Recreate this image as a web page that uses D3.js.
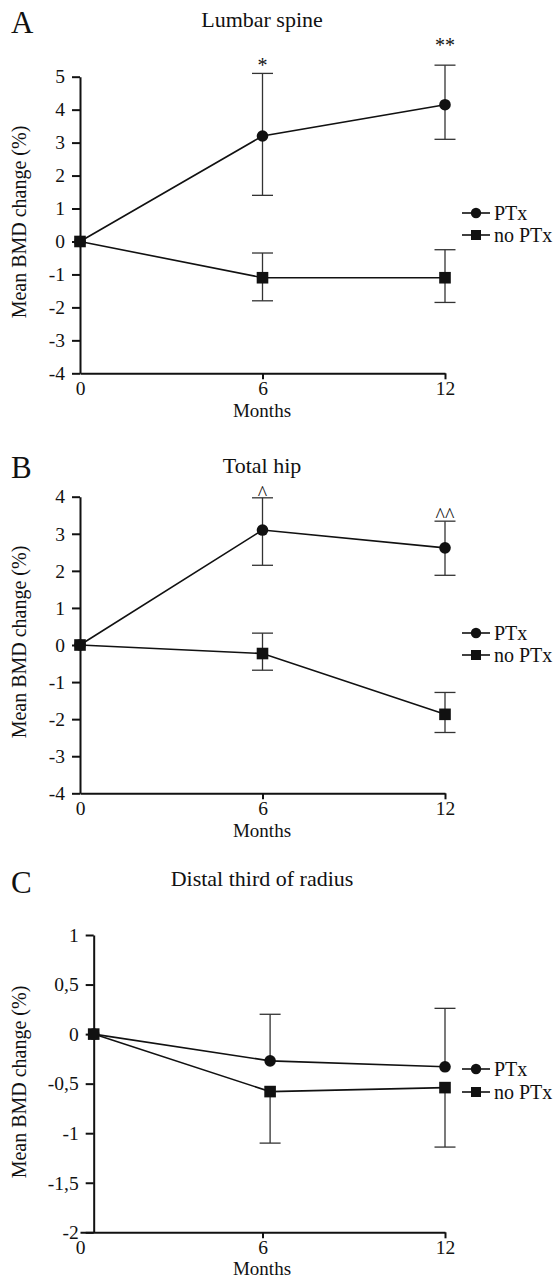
<!DOCTYPE html>
<html>
<head>
<meta charset="utf-8">
<script src="https://cdn.jsdelivr.net/npm/d3@7"></script>
<style>
  body { margin: 0; background: #fff; }
  svg text { font-family: "Liberation Serif", "Times New Roman", serif; fill: #111; }
  .tick text { font-size: 19.5px; }
</style>
</head>
<body>
<svg id="chart" width="555" height="1279"></svg>
<script>
// months on the x axis
var xTicks = [0, 6, 12];
var months = [0, 6, 12];
var monthsC = [0.45, 6.25, 12]; // panel C points sit a bit to the right

// A - lumbar spine
var lumbarPTx   = [0, 3.2, 4.15];
var lumbarPTxHi = [null, 5.1, 5.35];
var lumbarPTxLo = [null, 1.4, 3.1];
var lumbarNo    = [0, -1.1, -1.1];
var lumbarNoHi  = [null, -0.35, -0.25];
var lumbarNoLo  = [null, -1.8, -1.85];
var lumbarSig   = ["", "*", "**"];
var lumbarSigY  = [null, 5.44, 6.05];
var ticksA = [-4, -3, -2, -1, 0, 1, 2, 3, 4, 5];

// B - total hip
var hipPTx   = [0, 3.1, 2.62];
var hipPTxHi = [null, 3.97, 3.34];
var hipPTxLo = [null, 2.15, 1.88];
var hipNo    = [0, -0.23, -1.87];
var hipNoHi  = [null, 0.32, -1.28];
var hipNoLo  = [null, -0.68, -2.36];
var hipSig   = ["", "^", "^^"];
var hipSigY  = [null, 4.17, 3.58];
var ticksB = [-4, -3, -2, -1, 0, 1, 2, 3, 4];

// C - distal third of radius (one sided error bars)
var radiusPTx   = [0, -0.27, -0.33];
var radiusPTxHi = [null, 0.20, 0.26];
var radiusPTxLo = [null, null, null];
var radiusNo    = [0, -0.58, -0.54];
var radiusNoHi  = [null, null, null];
var radiusNoLo  = [null, -1.10, -1.14];
var ticksC = [-2, -1.5, -1, -0.5, 0, 0.5, 1];

var legendNames = ["PTx", "no PTx"];

var plain = function(d) { return String(d); };
var comma = function(d) { return String(d).replace(".", ","); };

var panels = [
  { letter: "A", letterY: 33, title: "Lumbar spine", titleY: 27, top: 76.7, bottom: 373.3,
    yDomain: [-4, 5], ticks: ticksA, fmt: plain, xs: months, labelY: 222, monthsY: 417,
    ptx: lumbarPTx, ptxHi: lumbarPTxHi, ptxLo: lumbarPTxLo,
    no: lumbarNo, noHi: lumbarNoHi, noLo: lumbarNoLo,
    sig: lumbarSig, sigY: lumbarSigY, legendY: [213, 235] },
  { letter: "B", letterY: 478, title: "Total hip", titleY: 473, top: 496.7, bottom: 793.3,
    yDomain: [-4, 4], ticks: ticksB, fmt: plain, xs: months, labelY: 642, monthsY: 837,
    ptx: hipPTx, ptxHi: hipPTxHi, ptxLo: hipPTxLo,
    no: hipNo, noHi: hipNoHi, noLo: hipNoLo,
    sig: hipSig, sigY: hipSigY, legendY: [633, 655] },
  { letter: "C", letterY: 893, title: "Distal third of radius", titleY: 886, top: 935, bottom: 1232.3,
    yDomain: [-2, 1], ticks: ticksC, fmt: comma, xs: monthsC, labelY: 1082, monthsY: 1275,
    ptx: radiusPTx, ptxHi: radiusPTxHi, ptxLo: radiusPTxLo,
    no: radiusNo, noHi: radiusNoHi, noLo: radiusNoLo,
    sig: null, sigY: null, legendY: [1069, 1092] }
];

var svg = d3.select("#chart");
var x = d3.scaleLinear().domain([0, 12]).range([80, 445]);

panels.forEach(function(p) {
  var g = svg.append("g");
  var y = d3.scaleLinear().domain(p.yDomain).range([p.bottom, p.top]);
  var axisX = x(p.xs[0]);

  // letter + title
  g.append("text").attr("x", 11).attr("y", p.letterY).style("font-size", "31px").text(p.letter);
  g.append("text").attr("x", 262).attr("y", p.titleY).attr("text-anchor", "middle")
    .style("font-size", "22px").text(p.title);

  // x axis
  var gx = g.append("g").attr("transform", "translate(0," + p.bottom + ")")
    .call(d3.axisBottom(x).tickValues(xTicks).tickFormat(plain).tickSize(6).tickPadding(2).tickSizeOuter(0));
  gx.selectAll(".tick").filter(function(d) { return d === 0; }).select("line").remove();

  // y axis
  var gy = g.append("g").attr("transform", "translate(" + axisX + ",0)")
    .call(d3.axisLeft(y).tickValues(p.ticks).tickFormat(p.fmt).tickSize(8).tickPadding(7).tickSizeOuter(0));

  [gx, gy].forEach(function(a) {
    a.attr("font-family", null).attr("font-size", null).attr("color", "#111");
    a.selectAll("path, line").attr("stroke-width", 2);
  });

  g.append("text").attr("text-anchor", "middle")
    .attr("transform", "translate(25.5," + p.labelY + ") rotate(-90)")
    .style("font-size", "20px").text("Mean BMD change (%)");
  g.append("text").attr("x", 262).attr("y", p.monthsY).attr("text-anchor", "middle")
    .style("font-size", "19px").text("Months");

  // error bars
  function bars(mean, hi, lo) {
    mean.forEach(function(m, i) {
      var a = hi[i] != null ? hi[i] : m;
      var b = lo[i] != null ? lo[i] : m;
      if (hi[i] == null && lo[i] == null) return;
      var cx = x(p.xs[i]);
      g.append("line").attr("x1", cx).attr("x2", cx).attr("y1", y(a)).attr("y2", y(b))
        .attr("stroke", "#333").attr("stroke-width", 1.3);
      [hi[i], lo[i]].forEach(function(v) {
        if (v == null) return;
        g.append("line").attr("x1", cx - 10.5).attr("x2", cx + 10.5).attr("y1", y(v)).attr("y2", y(v))
          .attr("stroke", "#333").attr("stroke-width", 1.3);
      });
    });
  }
  bars(p.ptx, p.ptxHi, p.ptxLo);
  bars(p.no, p.noHi, p.noLo);

  var line = d3.line().x(function(d, i) { return x(p.xs[i]); }).y(function(d) { return y(d); });
  [p.ptx, p.no].forEach(function(s) {
    g.append("path").attr("d", line(s)).attr("fill", "none").attr("stroke", "#111").attr("stroke-width", 1.6);
  });

  g.selectAll(null).data(p.ptx).enter().append("circle")
    .attr("cx", function(d, i) { return x(p.xs[i]); }).attr("cy", function(d) { return y(d); })
    .attr("r", 5.8).attr("fill", "#111");
  g.selectAll(null).data(p.no).enter().append("rect")
    .attr("x", function(d, i) { return x(p.xs[i]) - 5.8; }).attr("y", function(d) { return y(d) - 5.8; })
    .attr("width", 11.6).attr("height", 11.6).attr("fill", "#111");

  // significance marks
  if (p.sig) {
    p.sig.forEach(function(s, i) {
      if (!s) return;
      g.append("text").attr("x", x(p.xs[i])).attr("y", y(p.sigY[i]) + 9.5)
        .attr("text-anchor", "middle").style("font-size", "20px").text(s);
    });
  }

  // legend
  legendNames.forEach(function(name, k) {
    var ly = p.legendY[k];
    g.append("line").attr("x1", 462).attr("x2", 490).attr("y1", ly).attr("y2", ly)
      .attr("stroke", "#111").attr("stroke-width", 1.6);
    if (k === 0) {
      g.append("circle").attr("cx", 476).attr("cy", ly).attr("r", 5.2).attr("fill", "#111");
    } else {
      g.append("rect").attr("x", 471).attr("y", ly - 5).attr("width", 10).attr("height", 10).attr("fill", "#111");
    }
    g.append("text").attr("x", 494).attr("y", ly + 7).style("font-size", "20px").text(name);
  });
});
</script>
</body>
</html>
